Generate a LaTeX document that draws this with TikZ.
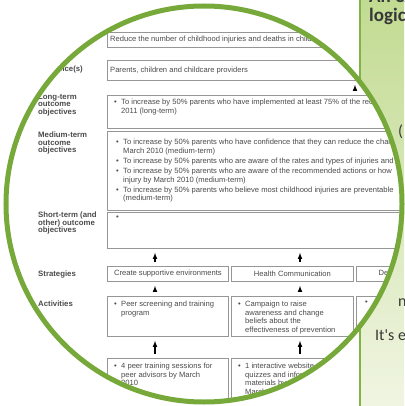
\documentclass[tikz,border=0pt]{standalone}
\usepackage{fontspec}
\setmainfont{Liberation Sans}
\newfontfamily\slidefont{Carlito}
\usetikzlibrary{positioning}

\definecolor{ringgreen}{RGB}{118,168,58}
\definecolor{panelline}{RGB}{128,178,70}
\definecolor{paneltop}{RGB}{194,219,146}
\definecolor{panelbot}{RGB}{240,245,226}
\definecolor{cellgray}{RGB}{150,150,150}
\definecolor{inkgray}{RGB}{75,75,75}
\definecolor{slideink}{RGB}{55,55,55}

\newcommand{\bl}{\makebox[7pt][l]{\textbullet}}
\newcommand{\ind}{\hspace*{7pt}}

\begin{document}
\begin{tikzpicture}[x=1pt,y=-1pt]
\tikzset{cell/.style = {draw=cellgray, line width=0.8pt, anchor=north west, inner sep=0pt}}
\tikzset{celltext/.style = {anchor=north west, align=left, inner sep=0pt, text=inkgray, font=\fontsize{7.6}{8.6}\selectfont}}
\tikzset{rowlabel/.style = {anchor=north west, align=left, inner sep=0pt, text=inkgray, font=\fontsize{7.8}{7.4}\selectfont\bfseries}}
\tikzset{edge/.style = {->,> = latex, line width=1.1pt, shorten <=4pt, shorten >=4pt}}
\tikzset{slidetext/.style = {anchor=base west, inner sep=0pt, text=slideink, font=\slidefont\fontsize{16}{18}\selectfont}}
\tikzset{slidetitle/.style = {slidetext, font=\slidefont\fontsize{19}{22}\selectfont\bfseries}}

\useasboundingbox (0,0) rectangle (404,406);
\fill[white] (0,0) rectangle (404,406);

% slide behind the lens
\shade[top color=paneltop, bottom color=panelbot] (360,0) rectangle (404,406);
\draw[panelline, line width=2.5pt] (360,0) -- (360,406);
\node[slidetitle] (title1) at (369,3) {An example};
\node[slidetitle] (title2) at (369,22) {logic};
\node[slidetext] (paren) at (398,137) {(};
\node[slidetext] (nline) at (398,306) {n};
\node[slidetext] (itsline) at (375,340) {It's e};

% the lens
\fill[white] (204,204) circle[radius=198pt];
\begin{scope}
\clip (204,204) circle[radius=198pt];

\node[cell, minimum width=363pt, minimum height=15pt] (goal) at (107,32) {};
\node[cell, minimum width=363pt, minimum height=20pt] (aud) at (107,60) {};
\node[cell, minimum width=363pt, minimum height=33pt] (long) at (107,95) {};
\node[cell, minimum width=363pt, minimum height=79pt] (med) at (107,131) {};
\node[cell, minimum width=363pt, minimum height=36pt] (short) at (107,212) {};

\node[cell, minimum width=121pt, minimum height=15pt] (strat1) at (107,266) {};
\node[cell, minimum width=122pt, minimum height=15pt] (strat2) at (231,266) {};
\node[cell, minimum width=122pt, minimum height=15pt] (strat3) at (356,266) {};
\node[cell, minimum width=121pt, minimum height=40pt] (act1) at (107,296) {};
\node[cell, minimum width=122pt, minimum height=40pt] (act2) at (231,296) {};
\node[cell, minimum width=122pt, minimum height=40pt] (act3) at (356,296) {};
\node[cell, minimum width=121pt, minimum height=60pt] (out1) at (107,358) {};
\node[cell, minimum width=122pt, minimum height=60pt] (out2) at (231,358) {};

% row labels
\node[rowlabel] (audlbl) at (38,66) {Audience(s)};
\node[rowlabel] (longlbl) at (38,94) {Long-term\\outcome\\objectives};
\node[rowlabel] (medlbl) at (38,132) {Medium-term\\outcome\\objectives};
\node[rowlabel] (shortlbl) at (38,212) {Short-term (and\\other) outcome\\objectives};
\node[rowlabel] (stratlbl) at (38,271) {Strategies};
\node[rowlabel] (actlbl) at (38,301) {Activities};

% cell texts
\node[celltext, anchor=west, right=3pt of goal.west] (goaltxt) {Reduce the number of childhood injuries and deaths in children};
\node[celltext, anchor=west, right=3pt of aud.west] (audtxt) {Parents, children and childcare providers};
\node[celltext, below right=4pt and 7pt of long.north west] (longtxt) {\bl To increase by 50\% parents who have implemented at least 75\% of the recommended\\
\ind 2011 (long-term)};
\node[celltext, below right=8pt and 9pt of med.north west] (medtxt) {\bl To increase by 50\% parents who have confidence that they can reduce the chance\\
\ind March 2010 (medium-term)\\[1.5pt]
\bl To increase by 50\% parents who are aware of the rates and types of injuries and\\[1.5pt]
\bl To increase by 50\% parents who are aware of the recommended actions or how\\
\ind injury by March 2010 (medium-term)\\[1.5pt]
\bl To increase by 50\% parents who believe most childhood injuries are preventable\\
\ind (medium-term)};
\node[celltext, below right=4pt and 9pt of short.north west] (shorttxt) {\textbullet};

\node[celltext, anchor=center] (strat1txt) at (strat1.center) {Create supportive environments};
\node[celltext, anchor=center] (strat2txt) at (strat2.center) {Health Communication};
\node[celltext, anchor=center] (strat3txt) at (strat3.center) {Develop personal skills};

\node[celltext, below right=5pt and 7pt of act1.north west] (act1txt) {\bl Peer screening and training\\ \ind program};
\node[celltext, below right=5pt and 7pt of act2.north west] (act2txt) {\bl Campaign to raise\\ \ind awareness and change\\ \ind beliefs about the\\ \ind effectiveness of prevention};
\node[celltext, below right=5pt and 9pt of act3.north west] (act3txt) {\textbullet};

\node[celltext, below right=5pt and 7pt of out1.north west] (out1txt) {\bl 4 peer training sessions for\\ \ind peer advisors by March\\ \ind 2010};
\node[celltext, below right=5pt and 7pt of out2.north west] (out2txt) {\bl 1 interactive website with\\ \ind quizzes and information\\ \ind materials by\\ \ind March 2010};

% arrows
\draw[edge] ([xshift=248pt]long.north west) -- ([xshift=248pt]aud.south west);
\draw[edge] ([xshift=48pt]strat1.north west) -- ([xshift=48pt]short.south west);
\draw[edge] ([xshift=69pt]strat2.north west) -- ([xshift=193pt]short.south west);
\draw[edge] ([xshift=48pt]act1.north west) -- ([xshift=48pt]strat1.south west);
\draw[edge] ([xshift=69pt]act2.north west) -- ([xshift=69pt]strat2.south west);
\draw[edge] ([xshift=48pt]out1.north west) -- ([xshift=48pt]act1.south west);
\draw[edge] ([xshift=69pt]out2.north west) -- ([xshift=69pt]act2.south west);
\end{scope}
\draw[ringgreen, line width=5pt] (204,204) circle[radius=198pt];

\end{tikzpicture}
\end{document}
